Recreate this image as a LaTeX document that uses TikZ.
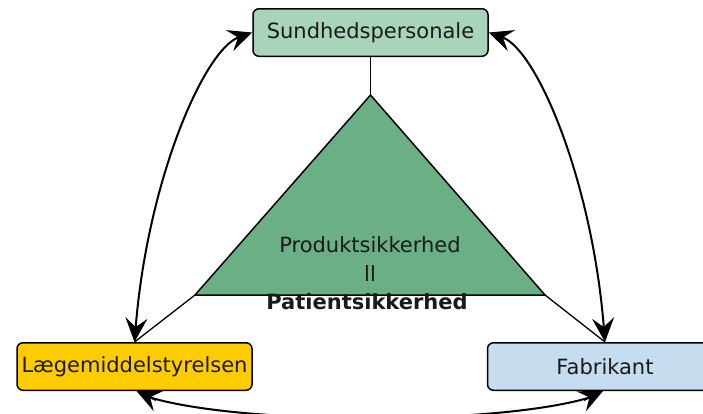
\documentclass[tikz,border=0pt]{standalone}
\usepackage{fontspec}
\setmainfont{DejaVu Sans}
\usetikzlibrary{arrows.meta,calc}
\definecolor{sungreen}{HTML}{A8D5BA}
\definecolor{trigreen}{HTML}{6BB085}
\definecolor{laeyellow}{HTML}{FFCC00}
\definecolor{fabblue}{HTML}{C5DDEF}
\definecolor{txt}{HTML}{1A1A1A}
\tikzset{
  actor/.style={draw=black, line width=1.5pt, rounded corners=6pt, minimum width=235pt, minimum height=47.5pt, inner sep=0pt, text=txt, font=\fontsize{21}{25}\selectfont},
  link/.style={draw=black, line width=1.3pt},
  bigtip/.tip={Stealth[length=24pt,width=22pt,inset=9pt]},
  twoway/.style={draw=black, line width=2pt, {bigtip}-{bigtip}},
  shaft/.style={draw=black, line width=2pt},
  headonly/.style={draw=black, line width=2pt, -{bigtip}}
}
\tikzset{lbl/.style={anchor=base, inner sep=0pt, text=txt, font=\fontsize{21}{25}\selectfont}}
\begin{document}
\begin{tikzpicture}[x=1pt,y=-1pt]
\useasboundingbox (0,0) rectangle (703,413);
\clip (0,0) rectangle (703,413);
% triangle
\coordinate (apex) at (370.5,95);
\coordinate (bl) at (195,295);
\coordinate (br) at (545,295);
\fill[trigreen] (apex) -- (bl) -- (br) -- cycle;
\draw[line width=1.5pt, line join=miter] (apex) -- (bl) -- (br) -- cycle;
% nodes
\node[actor, fill=sungreen] (sun) at (370.5,32.5) {Sundhedspersonale};
\node[actor, fill=laeyellow] (lae) at (134.5,366.5) {Lægemiddelstyrelsen};
\node[actor, fill=fabblue] (fab) at (605,366.5) {Fabrikant};
% labels in triangle
\node[lbl] (t1) at (370,252) {Produktsikkerhed};
\node[lbl] (t2) at (370,281) {ll};
\node[lbl, font=\fontsize{21}{25}\selectfont\bfseries] (t3) at (367,309) {Patientsikkerhed};
% connectors
\draw[link] (sun.south) -- (apex);
\draw[link] (bl) -- (lae.north);
\draw[link] (br) -- (fab.north);
\draw[twoway] (sun.west) .. controls +(-48,17) and +(13,-162) .. (lae.north);
\draw[twoway] (sun.east) .. controls +(48,17) and +(-13,-162) .. (fab.north);
% bottom two-way connector (shaft + heads)
\coordinate (laeb) at (152,398);
\coordinate (fabb) at (588,398);
\draw[shaft] (laeb) .. controls (245,425) and (495,425) .. (fabb);
\draw[headonly] ($(laeb)+(4,2)$) -- ([xshift=2pt]lae.south);
\draw[headonly] ($(fabb)+(-4,2)$) -- ([xshift=-2pt]fab.south);
\end{tikzpicture}
\end{document}
